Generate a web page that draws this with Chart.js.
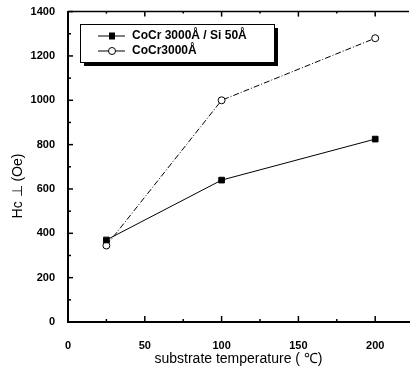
<!DOCTYPE html>
<html lang="en">
<head>
<meta charset="UTF-8">
<title>Hc vs substrate temperature</title>
<script src="https://cdn.jsdelivr.net/npm/chart.js"></script>
<style>
  html, body { margin: 0; padding: 0; background: #fff; }
  #wrap { width: 414px; height: 372px; }
</style>
</head>
<body>
<div id="wrap"><canvas id="hcChart" width="414" height="372"></canvas></div>
<script>
// data
const temps = [25, 100, 200];
const hcSi = [370, 640, 825];      // CoCr 3000A / Si 50A
const hcPlain = [345, 1000, 1280]; // CoCr 3000A
const xTicks = [0, 50, 100, 150, 200];
const seriesNames = ['CoCr 3000Å / Si 50Å', 'CoCr3000Å'];
const xTitle = 'substrate temperature ( ℃)';
const yTitle = 'Hc ⊥ (Oe)';

const font = '"Liberation Sans", Arial, sans-serif';

// inward ticks, top frame line, axis title and boxed legend
const framePlugin = {
  id: 'frame',
  afterDraw(chart) {
    const c = chart.ctx;
    const a = chart.chartArea;
    const xs = chart.scales.x, ys = chart.scales.y;
    c.save();
    c.strokeStyle = '#000';
    c.lineWidth = 1.5;
    // top border
    c.beginPath(); c.moveTo(a.left, a.top); c.lineTo(a.right, a.top); c.stroke();
    // y ticks (pointing right)
    for (let v = 0; v <= 1400; v += 100) {
      const y = ys.getPixelForValue(v);
      const len = v % 200 === 0 ? 5 : 3;
      c.beginPath(); c.moveTo(a.left, y); c.lineTo(a.left + len, y); c.stroke();
    }
    // x ticks (pointing up, and down from top)
    for (let v = 0; v <= 220; v += 25) {
      const x = xs.getPixelForValue(v);
      const len = v % 50 === 0 ? 6 : 3;
      c.beginPath(); c.moveTo(x, a.bottom); c.lineTo(x, a.bottom - len); c.stroke();
      c.beginPath(); c.moveTo(x, a.top); c.lineTo(x, a.top + len - 1); c.stroke();
    }
    // y title
    c.fillStyle = '#000';
    c.font = '14px ' + font;
    c.textAlign = 'center';
    c.textBaseline = 'middle';
    c.translate(18, 186);
    c.rotate(-Math.PI / 2);
    c.fillText(yTitle, 0, 0);
    c.restore();

    // legend box
    c.save();
    const bx = 80, by = 24, bw = 194, bh = 38;
    c.fillStyle = '#000';
    c.fillRect(bx + 4, by + 4, bw, bh);
    c.fillStyle = '#fff';
    c.fillRect(bx, by, bw, bh);
    c.strokeStyle = '#000';
    c.lineWidth = 1;
    c.strokeRect(bx + 0.5, by + 0.5, bw, bh);
    c.font = 'bold 12px ' + font;
    c.textAlign = 'left';
    c.textBaseline = 'middle';
    const rows = [by + 12, by + 27];
    rows.forEach((ry, i) => {
      c.strokeStyle = '#000';
      c.lineWidth = 1;
      c.beginPath(); c.moveTo(98, ry); c.lineTo(125, ry); c.stroke();
      if (i === 0) {
        c.fillStyle = '#000';
        c.fillRect(109, ry - 3.5, 6, 7);
      } else {
        c.fillStyle = '#fff';
        c.beginPath(); c.arc(112, ry, 3.5, 0, Math.PI * 2); c.fill(); c.stroke();
      }
      c.fillStyle = '#000';
      c.fillText(seriesNames[i], 132, ry);
    });
    c.restore();
  }
};

const ctx = document.getElementById('hcChart').getContext('2d');
new Chart(ctx, {
  type: 'scatter',
  data: {
    datasets: [{
      label: seriesNames[0],
      data: temps.map((t, i) => ({ x: t, y: hcSi[i] })),
      showLine: true,
      borderColor: '#000',
      borderWidth: 1,
      pointStyle: 'rect',
      pointRadius: 4,
      pointBackgroundColor: '#000',
      pointBorderColor: '#000'
    }, {
      label: seriesNames[1],
      data: temps.map((t, i) => ({ x: t, y: hcPlain[i] })),
      showLine: true,
      borderColor: '#000',
      borderWidth: 1,
      borderDash: [6, 2, 1, 2],
      pointStyle: 'circle',
      pointRadius: 3.5,
      pointBackgroundColor: '#fff',
      pointBorderColor: '#000',
      pointBorderWidth: 1
    }]
  },
  options: {
    responsive: false,
    animation: false,
    layout: { padding: { top: 10, right: 1, left: 0, bottom: 0 } },
    plugins: {
      legend: { display: false },
      tooltip: { enabled: false }
    },
    scales: {
      x: {
        type: 'linear',
        min: 0,
        max: 222,
        afterBuildTicks: s => { s.ticks = xTicks.map(v => ({ value: v })); },
        afterFit: s => { s.height = 50; },
        grid: { display: false },
        border: { display: true, color: '#000', width: 2 },
        ticks: {
          color: '#000', padding: 9,
          font: { family: font, size: 11, weight: 'bold' },
          callback: v => String(v)
        },
        title: {
          display: true,
          text: xTitle,
          color: '#000',
          padding: { top: 2 },
          font: { family: font, size: 14 }
        }
      },
      y: {
        min: 0,
        max: 1400,
        afterFit: s => { s.width = 68; },
        grid: { display: false },
        border: { display: true, color: '#000', width: 2 },
        ticks: {
          stepSize: 200, color: '#000', padding: 5,
          font: { family: font, size: 11, weight: 'bold' },
          callback: v => String(v)
        }
      }
    }
  },
  plugins: [framePlugin]
});
</script>
</body>
</html>
